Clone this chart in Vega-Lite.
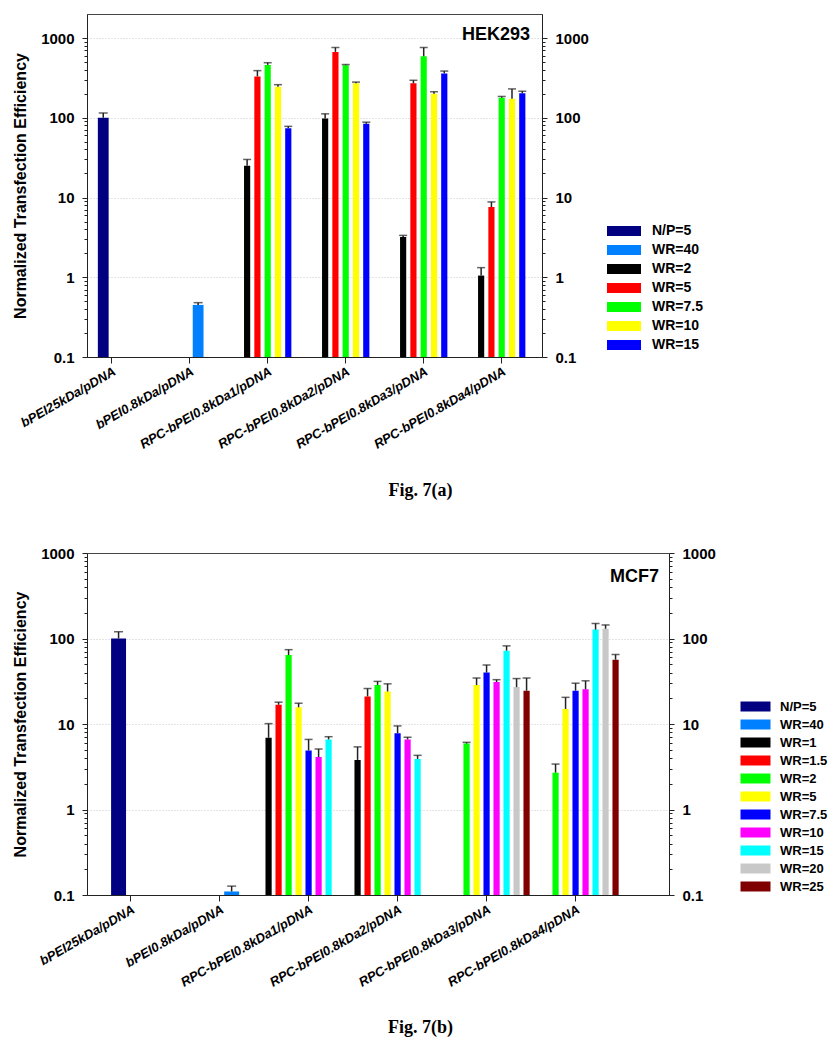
{
  "$schema": "https://vega.github.io/schema/vega-lite/v6.json",
  "padding": {"left": 12, "top": 13, "right": 5, "bottom": 5},
  "config": {
    "font": "Liberation Sans",
    "view": {"stroke": "#444", "strokeWidth": 1},
    "axis": {"labelColor": "black", "titleColor": "black", "domainColor": "#222", "tickColor": "#222", "labelFont": "Liberation Sans", "titleFont": "Liberation Sans"},
    "legend": {"labelColor": "black", "labelFont": "Liberation Sans", "labelFontWeight": "bold", "symbolStrokeWidth": 0, "symbolOpacity": 1, "padding": 0}
  },
  "datasets": {
    "hek": [
      {"cat": "bPEI25kDa/pDNA", "series": "N/P=5", "value": 100, "upper": 115},
      {"cat": "bPEI0.8kDa/pDNA", "series": "WR=40", "value": 0.45, "upper": 0.48},
      {"cat": "RPC-bPEI0.8kDa1/pDNA", "series": "WR=2", "value": 25, "upper": 30},
      {"cat": "RPC-bPEI0.8kDa1/pDNA", "series": "WR=5", "value": 330, "upper": 390},
      {"cat": "RPC-bPEI0.8kDa1/pDNA", "series": "WR=7.5", "value": 460, "upper": 490},
      {"cat": "RPC-bPEI0.8kDa1/pDNA", "series": "WR=10", "value": 245, "upper": 260},
      {"cat": "RPC-bPEI0.8kDa1/pDNA", "series": "WR=15", "value": 74, "upper": 78},
      {"cat": "RPC-bPEI0.8kDa2/pDNA", "series": "WR=2", "value": 98, "upper": 112},
      {"cat": "RPC-bPEI0.8kDa2/pDNA", "series": "WR=5", "value": 670, "upper": 760},
      {"cat": "RPC-bPEI0.8kDa2/pDNA", "series": "WR=7.5", "value": 455, "upper": 465},
      {"cat": "RPC-bPEI0.8kDa2/pDNA", "series": "WR=10", "value": 270, "upper": 280},
      {"cat": "RPC-bPEI0.8kDa2/pDNA", "series": "WR=15", "value": 84, "upper": 88},
      {"cat": "RPC-bPEI0.8kDa3/pDNA", "series": "WR=2", "value": 3.2, "upper": 3.35},
      {"cat": "RPC-bPEI0.8kDa3/pDNA", "series": "WR=5", "value": 270, "upper": 295},
      {"cat": "RPC-bPEI0.8kDa3/pDNA", "series": "WR=7.5", "value": 590, "upper": 760},
      {"cat": "RPC-bPEI0.8kDa3/pDNA", "series": "WR=10", "value": 200, "upper": 212},
      {"cat": "RPC-bPEI0.8kDa3/pDNA", "series": "WR=15", "value": 360, "upper": 385},
      {"cat": "RPC-bPEI0.8kDa4/pDNA", "series": "WR=2", "value": 1.05, "upper": 1.32},
      {"cat": "RPC-bPEI0.8kDa4/pDNA", "series": "WR=5", "value": 7.6, "upper": 8.8},
      {"cat": "RPC-bPEI0.8kDa4/pDNA", "series": "WR=7.5", "value": 178, "upper": 185},
      {"cat": "RPC-bPEI0.8kDa4/pDNA", "series": "WR=10", "value": 173, "upper": 230},
      {"cat": "RPC-bPEI0.8kDa4/pDNA", "series": "WR=15", "value": 203, "upper": 215}
    ],
    "mcf": [
      {"cat": "bPEI25kDa/pDNA", "series": "N/P=5", "value": 100, "upper": 120},
      {"cat": "bPEI0.8kDa/pDNA", "series": "WR=40", "value": 0.11, "upper": 0.127},
      {"cat": "RPC-bPEI0.8kDa1/pDNA", "series": "WR=1", "value": 6.9, "upper": 10.1},
      {"cat": "RPC-bPEI0.8kDa1/pDNA", "series": "WR=1.5", "value": 16.8, "upper": 18},
      {"cat": "RPC-bPEI0.8kDa1/pDNA", "series": "WR=2", "value": 64, "upper": 74},
      {"cat": "RPC-bPEI0.8kDa1/pDNA", "series": "WR=5", "value": 15.7, "upper": 17.5},
      {"cat": "RPC-bPEI0.8kDa1/pDNA", "series": "WR=7.5", "value": 4.9, "upper": 6.6},
      {"cat": "RPC-bPEI0.8kDa1/pDNA", "series": "WR=10", "value": 4.1, "upper": 5.1},
      {"cat": "RPC-bPEI0.8kDa1/pDNA", "series": "WR=15", "value": 6.6, "upper": 7.1},
      {"cat": "RPC-bPEI0.8kDa2/pDNA", "series": "WR=1", "value": 3.8, "upper": 5.4},
      {"cat": "RPC-bPEI0.8kDa2/pDNA", "series": "WR=1.5", "value": 21, "upper": 26},
      {"cat": "RPC-bPEI0.8kDa2/pDNA", "series": "WR=2", "value": 28.5, "upper": 31.5},
      {"cat": "RPC-bPEI0.8kDa2/pDNA", "series": "WR=5", "value": 24, "upper": 29.5},
      {"cat": "RPC-bPEI0.8kDa2/pDNA", "series": "WR=7.5", "value": 7.8, "upper": 9.5},
      {"cat": "RPC-bPEI0.8kDa2/pDNA", "series": "WR=10", "value": 6.6, "upper": 7.0},
      {"cat": "RPC-bPEI0.8kDa2/pDNA", "series": "WR=15", "value": 3.9, "upper": 4.3},
      {"cat": "RPC-bPEI0.8kDa3/pDNA", "series": "WR=2", "value": 5.9, "upper": 6.1},
      {"cat": "RPC-bPEI0.8kDa3/pDNA", "series": "WR=5", "value": 28.5, "upper": 34.5},
      {"cat": "RPC-bPEI0.8kDa3/pDNA", "series": "WR=7.5", "value": 40, "upper": 49},
      {"cat": "RPC-bPEI0.8kDa3/pDNA", "series": "WR=10", "value": 31, "upper": 33},
      {"cat": "RPC-bPEI0.8kDa3/pDNA", "series": "WR=15", "value": 72, "upper": 82},
      {"cat": "RPC-bPEI0.8kDa3/pDNA", "series": "WR=20", "value": 27, "upper": 34},
      {"cat": "RPC-bPEI0.8kDa3/pDNA", "series": "WR=25", "value": 24.5, "upper": 34.5},
      {"cat": "RPC-bPEI0.8kDa4/pDNA", "series": "WR=2", "value": 2.7, "upper": 3.4},
      {"cat": "RPC-bPEI0.8kDa4/pDNA", "series": "WR=5", "value": 15, "upper": 20.5},
      {"cat": "RPC-bPEI0.8kDa4/pDNA", "series": "WR=7.5", "value": 24.5, "upper": 30},
      {"cat": "RPC-bPEI0.8kDa4/pDNA", "series": "WR=10", "value": 25.5, "upper": 32},
      {"cat": "RPC-bPEI0.8kDa4/pDNA", "series": "WR=15", "value": 127, "upper": 150},
      {"cat": "RPC-bPEI0.8kDa4/pDNA", "series": "WR=20", "value": 130, "upper": 144},
      {"cat": "RPC-bPEI0.8kDa4/pDNA", "series": "WR=25", "value": 56.5, "upper": 65}
    ]
  },
  "vconcat": [
    {
      "data": {"name": "hek"},
      "width": 455,
      "height": 343,
      "title": {"text": "HEK293", "orient": "top", "anchor": "end", "frame": "group", "offset": -30, "dx": -12, "fontSize": 18, "fontWeight": "bold", "font": "Liberation Sans", "color": "black"},
      "encoding": {
        "x": {"field": "cat", "type": "nominal", "sort": null,
          "scale": {"domain": ["bPEI25kDa/pDNA", "bPEI0.8kDa/pDNA", "RPC-bPEI0.8kDa1/pDNA", "RPC-bPEI0.8kDa2/pDNA", "RPC-bPEI0.8kDa3/pDNA", "RPC-bPEI0.8kDa4/pDNA"], "paddingInner": 0.367, "paddingOuter": 0.1, "align": 0},
          "axis": {"title": "Fig. 7(a)", "titleFont": "Liberation Serif", "titleFontSize": 18, "titleFontWeight": "bold", "titleX": 333, "titleY": 138, "titleBaseline": "alphabetic", "titleAlign": "center", "labelAngle": -30, "labelFontStyle": "italic", "labelFontWeight": "bold", "labelFontSize": 13, "tickSize": 6, "labelPadding": 2, "grid": false}}
      },
      "layer": [
        {
          "transform": [{"filter": "datum.series == 'N/P=5' || datum.series == 'WR=40'"}],
          "mark": {"type": "bar"},
          "encoding": {
            "xOffset": {"field": "series", "type": "nominal", "scale": {"domain": ["N/P=5", "WR=40"], "paddingInner": 0.36, "paddingOuter": 0.643}},
            "y": {"field": "value", "type": "quantitative",
              "scale": {"type": "log", "domain": [0.1, 2000], "nice": false},
              "axis": {"title": "Normalized Transfection Efficiency", "titleFontSize": 16, "titleFontWeight": "bold", "titlePadding": 12, "orient": "left",
                "values": [0.1,0.2,0.3,0.4,0.5,0.6,0.7,0.8,0.9,1,2,3,4,5,6,7,8,9,10,20,30,40,50,60,70,80,90,100,200,300,400,500,600,700,800,900,1000],
                "labelExpr": "indexof([0.1,1,10,100,1000], datum.value) >= 0 ? '' + datum.value : ''",
                "labelOverlap": false, "labelFontSize": 15, "labelFontWeight": "bold", "labelPadding": 8,
                "tickSize": {"condition": {"test": "indexof([0.1,1,10,100,1000], datum.value) >= 0", "value": 5}, "value": 3},
                "grid": true, "gridDash": [1, 2], "gridColor": "#c8c8c8",
                "gridOpacity": {"condition": {"test": "indexof([1,10,100,1000], datum.value) >= 0", "value": 1}, "value": 0}}},
            "y2": {"datum": 0.1},
            "color": {"field": "series", "type": "nominal",
              "scale": {"domain": ["N/P=5", "WR=40", "WR=2", "WR=5", "WR=7.5", "WR=10", "WR=15"], "range": ["#000080", "#0080ff", "#000000", "#ff0000", "#00ff00", "#ffff00", "#0000ff"]},
              "legend": {"orient": "none", "legendX": 530, "legendY": 210, "title": null, "symbolType": "M-3.4,-1H3.4V1H-3.4Z", "symbolSize": 100, "labelOffset": 21, "labelFontSize": 14, "rowPadding": 5}}
          }
        },
        {
          "transform": [{"filter": "datum.series == 'N/P=5' || datum.series == 'WR=40'"}],
          "mark": {"type": "rule", "color": "#222", "strokeWidth": 1.5},
          "encoding": {
            "xOffset": {"field": "series", "type": "nominal", "scale": {"domain": ["N/P=5", "WR=40"], "paddingInner": 0.36, "paddingOuter": 0.643}},
            "y": {"field": "value", "type": "quantitative", "scale": {"type": "log", "domain": [0.1, 2000], "nice": false}, "axis": null},
            "y2": {"field": "upper"}
          }
        },
        {
          "transform": [{"filter": "datum.series == 'N/P=5' || datum.series == 'WR=40'"}],
          "mark": {"type": "tick", "color": "#222", "thickness": 1.5, "size": 9, "orient": "horizontal"},
          "encoding": {
            "xOffset": {"field": "series", "type": "nominal", "scale": {"domain": ["N/P=5", "WR=40"], "paddingInner": 0.36, "paddingOuter": 0.643}},
            "y": {"field": "upper", "type": "quantitative", "scale": {"type": "log", "domain": [0.1, 2000], "nice": false}, "axis": null}
          }
        },
        {
          "transform": [{"filter": "datum.series != 'N/P=5' && datum.series != 'WR=40'"}],
          "mark": {"type": "bar"},
          "encoding": {
            "xOffset": {"field": "series", "type": "nominal", "scale": {"domain": ["WR=2", "WR=5", "WR=7.5", "WR=10", "WR=15"], "paddingInner": 0.4, "paddingOuter": 0.1}},
            "y": {"field": "value", "type": "quantitative",
              "scale": {"type": "log", "domain": [0.1, 2000], "nice": false},
              "axis": {"title": null, "orient": "right",
                "values": [0.1,0.2,0.3,0.4,0.5,0.6,0.7,0.8,0.9,1,2,3,4,5,6,7,8,9,10,20,30,40,50,60,70,80,90,100,200,300,400,500,600,700,800,900,1000],
                "labelExpr": "indexof([0.1,1,10,100,1000], datum.value) >= 0 ? '' + datum.value : ''",
                "labelOverlap": false, "labelFontSize": 15, "labelFontWeight": "bold", "labelPadding": 8,
                "tickSize": {"condition": {"test": "indexof([0.1,1,10,100,1000], datum.value) >= 0", "value": 5}, "value": 3},
                "grid": false}},
            "y2": {"datum": 0.1},
            "color": {"field": "series", "type": "nominal",
              "scale": {"domain": ["N/P=5", "WR=40", "WR=2", "WR=5", "WR=7.5", "WR=10", "WR=15"], "range": ["#000080", "#0080ff", "#000000", "#ff0000", "#00ff00", "#ffff00", "#0000ff"]},
              "legend": {"orient": "none", "legendX": 530, "legendY": 210, "title": null, "symbolType": "M-3.4,-1H3.4V1H-3.4Z", "symbolSize": 100, "labelOffset": 21, "labelFontSize": 14, "rowPadding": 5}}
          }
        },
        {
          "transform": [{"filter": "datum.series != 'N/P=5' && datum.series != 'WR=40'"}],
          "mark": {"type": "rule", "color": "#222", "strokeWidth": 1.5},
          "encoding": {
            "xOffset": {"field": "series", "type": "nominal", "scale": {"domain": ["WR=2", "WR=5", "WR=7.5", "WR=10", "WR=15"], "paddingInner": 0.4, "paddingOuter": 0.1}},
            "y": {"field": "value", "type": "quantitative", "scale": {"type": "log", "domain": [0.1, 2000], "nice": false}, "axis": null},
            "y2": {"field": "upper"}
          }
        },
        {
          "transform": [{"filter": "datum.series != 'N/P=5' && datum.series != 'WR=40'"}],
          "mark": {"type": "tick", "color": "#222", "thickness": 1.5, "size": 8, "orient": "horizontal"},
          "encoding": {
            "xOffset": {"field": "series", "type": "nominal", "scale": {"domain": ["WR=2", "WR=5", "WR=7.5", "WR=10", "WR=15"], "paddingInner": 0.4, "paddingOuter": 0.1}},
            "y": {"field": "upper", "type": "quantitative", "scale": {"type": "log", "domain": [0.1, 2000], "nice": false}, "axis": null}
          }
        }
      ],
      "resolve": {"scale": {"xOffset": "independent"}, "axis": {"y": "independent"}}
    },
    {
      "data": {"name": "mcf"},
      "width": 582,
      "height": 342,
      "title": {"text": "MCF7", "orient": "top", "anchor": "end", "frame": "group", "offset": -40, "dx": -10, "fontSize": 18, "fontWeight": "bold", "font": "Liberation Sans", "color": "black"},
      "encoding": {
        "x": {"field": "cat", "type": "nominal", "sort": null,
          "scale": {"domain": ["bPEI25kDa/pDNA", "bPEI0.8kDa/pDNA", "RPC-bPEI0.8kDa1/pDNA", "RPC-bPEI0.8kDa2/pDNA", "RPC-bPEI0.8kDa3/pDNA", "RPC-bPEI0.8kDa4/pDNA"], "paddingInner": 0.02, "paddingOuter": 0.28, "align": 0},
          "axis": {"title": "Fig. 7(b)", "titleFont": "Liberation Serif", "titleFontSize": 18, "titleFontWeight": "bold", "titleX": 333, "titleY": 137, "titleBaseline": "alphabetic", "titleAlign": "center", "labelAngle": -30, "labelFontStyle": "italic", "labelFontWeight": "bold", "labelFontSize": 13, "tickSize": 6, "labelPadding": 2, "grid": false}}
      },
      "layer": [
        {
          "transform": [{"filter": "datum.series == 'N/P=5' || datum.series == 'WR=40'"}],
          "mark": {"type": "bar"},
          "encoding": {
            "xOffset": {"field": "series", "type": "nominal", "scale": {"domain": ["N/P=5", "WR=40"], "paddingInner": 0.38, "paddingOuter": 1.755}},
            "y": {"field": "value", "type": "quantitative",
              "scale": {"type": "log", "domain": [0.1, 1000], "nice": false},
              "axis": {"title": "Normalized Transfection Efficiency", "titleFontSize": 16, "titleFontWeight": "bold", "titlePadding": 12, "orient": "left",
                "values": [0.1,0.2,0.3,0.4,0.5,0.6,0.7,0.8,0.9,1,2,3,4,5,6,7,8,9,10,20,30,40,50,60,70,80,90,100,200,300,400,500,600,700,800,900,1000],
                "labelExpr": "indexof([0.1,1,10,100,1000], datum.value) >= 0 ? '' + datum.value : ''",
                "labelOverlap": false, "labelFontSize": 15, "labelFontWeight": "bold", "labelPadding": 8,
                "tickSize": {"condition": {"test": "indexof([0.1,1,10,100,1000], datum.value) >= 0", "value": 5}, "value": 3},
                "grid": true, "gridDash": [1, 2], "gridColor": "#c8c8c8",
                "gridOpacity": {"condition": {"test": "indexof([1,10,100], datum.value) >= 0", "value": 1}, "value": 0}}},
            "y2": {"datum": 0.1},
            "color": {"field": "series", "type": "nominal",
              "scale": {"domain": ["N/P=5", "WR=40", "WR=1", "WR=1.5", "WR=2", "WR=5", "WR=7.5", "WR=10", "WR=15", "WR=20", "WR=25"], "range": ["#000080", "#0080ff", "#000000", "#ff0000", "#00ff00", "#ffff00", "#0000ff", "#ff00ff", "#00ffff", "#c8c8c8", "#800000"]},
              "legend": {"orient": "none", "legendX": 662, "legendY": 147, "title": null, "symbolType": "M-3,-1H3V1H-3Z", "symbolSize": 100, "labelOffset": 18, "labelFontSize": 13, "rowPadding": 4}}
          }
        },
        {
          "transform": [{"filter": "datum.series == 'N/P=5' || datum.series == 'WR=40'"}],
          "mark": {"type": "rule", "color": "#222", "strokeWidth": 1.5},
          "encoding": {
            "xOffset": {"field": "series", "type": "nominal", "scale": {"domain": ["N/P=5", "WR=40"], "paddingInner": 0.38, "paddingOuter": 1.755}},
            "y": {"field": "value", "type": "quantitative", "scale": {"type": "log", "domain": [0.1, 1000], "nice": false}, "axis": null},
            "y2": {"field": "upper"}
          }
        },
        {
          "transform": [{"filter": "datum.series == 'N/P=5' || datum.series == 'WR=40'"}],
          "mark": {"type": "tick", "color": "#222", "thickness": 1.5, "size": 9, "orient": "horizontal"},
          "encoding": {
            "xOffset": {"field": "series", "type": "nominal", "scale": {"domain": ["N/P=5", "WR=40"], "paddingInner": 0.38, "paddingOuter": 1.755}},
            "y": {"field": "upper", "type": "quantitative", "scale": {"type": "log", "domain": [0.1, 1000], "nice": false}, "axis": null}
          }
        },
        {
          "transform": [{"filter": "datum.series != 'N/P=5' && datum.series != 'WR=40'"}],
          "mark": {"type": "bar"},
          "encoding": {
            "xOffset": {"field": "series", "type": "nominal", "scale": {"domain": ["WR=1", "WR=1.5", "WR=2", "WR=5", "WR=7.5", "WR=10", "WR=15", "WR=20", "WR=25"], "paddingInner": 0.38, "paddingOuter": 0.05}},
            "y": {"field": "value", "type": "quantitative",
              "scale": {"type": "log", "domain": [0.1, 1000], "nice": false},
              "axis": {"title": null, "orient": "right",
                "values": [0.1,0.2,0.3,0.4,0.5,0.6,0.7,0.8,0.9,1,2,3,4,5,6,7,8,9,10,20,30,40,50,60,70,80,90,100,200,300,400,500,600,700,800,900,1000],
                "labelExpr": "indexof([0.1,1,10,100,1000], datum.value) >= 0 ? '' + datum.value : ''",
                "labelOverlap": false, "labelFontSize": 15, "labelFontWeight": "bold", "labelPadding": 8,
                "tickSize": {"condition": {"test": "indexof([0.1,1,10,100,1000], datum.value) >= 0", "value": 5}, "value": 3},
                "grid": false}},
            "y2": {"datum": 0.1},
            "color": {"field": "series", "type": "nominal",
              "scale": {"domain": ["N/P=5", "WR=40", "WR=1", "WR=1.5", "WR=2", "WR=5", "WR=7.5", "WR=10", "WR=15", "WR=20", "WR=25"], "range": ["#000080", "#0080ff", "#000000", "#ff0000", "#00ff00", "#ffff00", "#0000ff", "#ff00ff", "#00ffff", "#c8c8c8", "#800000"]},
              "legend": {"orient": "none", "legendX": 662, "legendY": 147, "title": null, "symbolType": "M-3,-1H3V1H-3Z", "symbolSize": 100, "labelOffset": 18, "labelFontSize": 13, "rowPadding": 4}}
          }
        },
        {
          "transform": [{"filter": "datum.series != 'N/P=5' && datum.series != 'WR=40'"}],
          "mark": {"type": "rule", "color": "#222", "strokeWidth": 1.5},
          "encoding": {
            "xOffset": {"field": "series", "type": "nominal", "scale": {"domain": ["WR=1", "WR=1.5", "WR=2", "WR=5", "WR=7.5", "WR=10", "WR=15", "WR=20", "WR=25"], "paddingInner": 0.38, "paddingOuter": 0.05}},
            "y": {"field": "value", "type": "quantitative", "scale": {"type": "log", "domain": [0.1, 1000], "nice": false}, "axis": null},
            "y2": {"field": "upper"}
          }
        },
        {
          "transform": [{"filter": "datum.series != 'N/P=5' && datum.series != 'WR=40'"}],
          "mark": {"type": "tick", "color": "#222", "thickness": 1.5, "size": 8, "orient": "horizontal"},
          "encoding": {
            "xOffset": {"field": "series", "type": "nominal", "scale": {"domain": ["WR=1", "WR=1.5", "WR=2", "WR=5", "WR=7.5", "WR=10", "WR=15", "WR=20", "WR=25"], "paddingInner": 0.38, "paddingOuter": 0.05}},
            "y": {"field": "upper", "type": "quantitative", "scale": {"type": "log", "domain": [0.1, 1000], "nice": false}, "axis": null}
          }
        }
      ],
      "resolve": {"scale": {"xOffset": "independent"}, "axis": {"y": "independent"}}
    }
  ],
  "spacing": 45,
  "resolve": {"scale": {"color": "independent"}, "legend": {"color": "independent"}}
}
